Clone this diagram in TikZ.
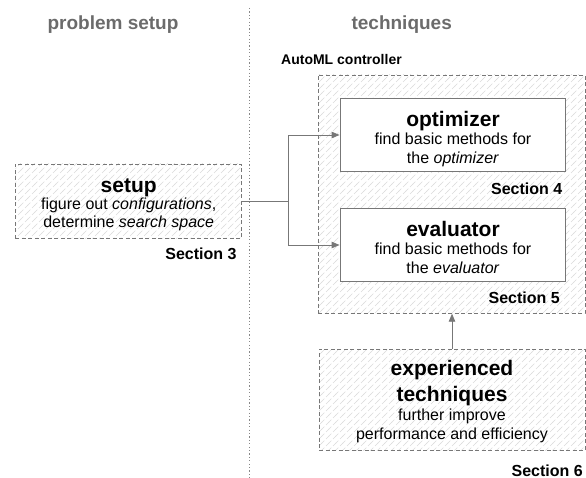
\documentclass[tikz,border=0pt]{standalone}
\usepackage{fontspec}
\setmainfont{Liberation Sans}
\usetikzlibrary{patterns,arrows.meta}
\pgfdeclarepatternformonly{hatchx}{\pgfqpoint{-1pt}{-1pt}}{\pgfqpoint{8pt}{8pt}}{\pgfqpoint{7pt}{7pt}}{%
  \pgfsetlinewidth{0.5pt}%
  \pgfpathmoveto{\pgfqpoint{-0.5pt}{-0.5pt}}%
  \pgfpathlineto{\pgfqpoint{7.5pt}{7.5pt}}%
  \pgfusepath{stroke}}
\definecolor{linegray}{HTML}{777777}
\definecolor{dotgray}{HTML}{888888}
\definecolor{headgray}{HTML}{6B6B6B}
\definecolor{hatchgray}{HTML}{DADADA}
\tikzset{
  dashbox/.style={rectangle, inner sep=0pt, draw=linegray, line width=0.8pt,
    dash pattern=on 4pt off 2.5pt, pattern=hatchx, pattern color=hatchgray},
  solidbox/.style={rectangle, inner sep=0pt, draw=linegray, fill=white, line width=0.9pt},
  conn/.style={draw=linegray, line width=0.9pt, -{Triangle[length=8pt,width=6.5pt]}},
  plainline/.style={draw=linegray, line width=0.9pt},
  txt/.style={inner sep=0pt, anchor=base, font=\fontsize{16}{18}\selectfont},
  ttl/.style={inner sep=0pt, anchor=base, font=\fontsize{21}{25}\selectfont\bfseries},
  sect/.style={inner sep=0pt, anchor=base east, font=\fontsize{16}{18}\selectfont\bfseries},
  head/.style={inner sep=0pt, anchor=base, text=headgray, font=\fontsize{19}{22}\selectfont\bfseries},
}
\begin{document}
\begin{tikzpicture}[x=1pt,y=-1pt]
\useasboundingbox (0,0) rectangle (586,478);
% divider
\draw[dotgray, line width=1pt, dash pattern=on 1.2pt off 2.2pt] (249.3,8) -- (249.3,478);
% headers
\node[head] (h1) at (113,29.5) {problem setup};
\node[head] (h2) at (401.7,29.5) {techniques};
\node[inner sep=0pt, anchor=base west, font=\fontsize{14}{16}\selectfont\bfseries] (automl) at (281,65) {AutoML controller};
% boxes
\node[dashbox, minimum width=226.4pt, minimum height=74.3pt] (setup) at (128.5,201.15) {};
\node[dashbox, minimum width=267pt, minimum height=238.3pt] (ctrl) at (451.5,194.15) {};
\node[solidbox, minimum width=225.7pt, minimum height=73.4pt] (opt) at (452.85,135) {};
\node[solidbox, minimum width=225.7pt, minimum height=73.4pt] (eval) at (452.85,245) {};
\node[dashbox, minimum width=266pt, minimum height=101pt] (exp) at (452,399.5) {};
% setup text
\node[ttl] (t1) at (128.7,192.3) {setup};
\node[txt] (t2) at (128.7,209.5) {figure out \textit{configurations},};
\node[txt] (t3) at (128.7,228) {determine \textit{search space}};
\node[sect] (s3) at (236.7,259.3) {Section 3};
% optimizer text
\node[ttl] (o1) at (453,126.7) {optimizer};
\node[txt] (o2) at (453,144.5) {find basic methods for};
\node[txt] (o3) at (453,163.3) {the \textit{optimizer}};
\node[sect] (s4) at (562.5,194.3) {Section 4};
% evaluator text
\node[ttl] (e1) at (453,236.7) {evaluator};
\node[txt] (e2) at (453,254.5) {find basic methods for};
\node[txt] (e3) at (453,273.3) {the \textit{evaluator}};
\node[sect] (s5) at (560,303.3) {Section 5};
% experienced text
\node[ttl] (x1) at (452,375) {experienced};
\node[ttl] (x2) at (452,401) {techniques};
\node[txt] (x3) at (452,420) {further improve};
\node[txt] (x4) at (452,439) {performance and efficiency};
\node[sect] (s6) at (583,476) {Section 6};
% connectors
\coordinate (split) at (288,201.15);
\draw[plainline] (setup.east) -- (split);
\draw[conn] (split) |- (opt.west);
\draw[conn] (split) |- (eval.west);
\draw[conn] (exp.north) -- (exp.north |- ctrl.south);
\end{tikzpicture}
\end{document}
